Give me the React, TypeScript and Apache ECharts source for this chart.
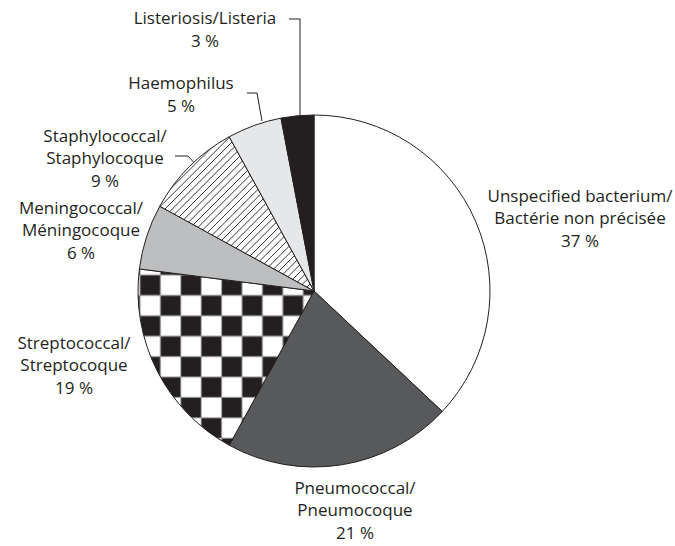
import React, { useEffect, useRef } from 'react';
import * as echarts from 'echarts';

const categories: string[] = [
  'Unspecified bacterium/\nBactérie non précisée',
  'Pneumococcal/\nPneumocoque',
  'Streptococcal/\nStreptocoque',
  'Meningococcal/\nMéningocoque',
  'Staphylococcal/\nStaphylocoque',
  'Haemophilus',
  'Listeriosis/Listeria',
];
const values: number[] = [37, 21, 19, 6, 9, 5, 3];

// label block layout: [centerX, topY, leader points | null]
const labelLayouts: [number, number, number[][] | null][] = [
  [580, 184, null],
  [355, 476, null],
  [74, 331, null],
  [81, 196, null],
  [105, 124, [[175, 156], [188, 156], [197, 166]]],
  [181, 71, [[247, 93], [257, 93], [262, 121]]],
  [205, 6, [[289, 19], [300, 19], [300, 116]]],
];

const CHECK_TILE = 40.8; // page px per 2 squares
const CHECK_PHASE_X = 140; // page x of a black square's left edge
const CHECK_PHASE_Y = 275; // page y of a black square's top edge

function makeChecker(): HTMLCanvasElement {
  const N = 82;
  const c = document.createElement('canvas');
  c.width = N;
  c.height = N;
  const ctx = c.getContext('2d')!;
  const sc = N / CHECK_TILE;
  const ox = ((CHECK_PHASE_X % CHECK_TILE) * sc) % N;
  const oy = ((CHECK_PHASE_Y % CHECK_TILE) * sc) % N;
  const sq = N / 2;
  ctx.fillStyle = '#ffffff';
  ctx.fillRect(0, 0, N, N);
  ctx.fillStyle = '#231f20';
  for (let i = -3; i <= 3; i++) {
    for (let j = -3; j <= 3; j++) {
      if ((((i + j) % 2) + 2) % 2 === 0) {
        ctx.fillRect(ox + i * sq, oy + j * sq, sq, sq);
      }
    }
  }
  ctx.fillStyle = '#9a9a9a';
  for (let i = -3; i <= 3; i++) {
    ctx.fillRect(ox + i * sq - 1, 0, 2, N);
    ctx.fillRect(0, oy + i * sq - 1, N, 2);
  }
  return c;
}

function makeHatch(): HTMLCanvasElement {
  const s = 22;
  const c = document.createElement('canvas');
  c.width = s;
  c.height = s;
  const ctx = c.getContext('2d')!;
  ctx.fillStyle = '#ffffff';
  ctx.fillRect(0, 0, s, s);
  ctx.strokeStyle = '#231f20';
  ctx.lineWidth = 0.9;
  for (let k = -1; k <= 7; k++) {
    const cc = (k * s) / 3;
    ctx.beginPath();
    ctx.moveTo(cc + 2, -2);
    ctx.lineTo(cc - s - 2, s + 2);
    ctx.stroke();
  }
  return c;
}

export default function App() {
  const ref = useRef<HTMLDivElement>(null);
  useEffect(() => {
    if (!ref.current) return;
    const chart = echarts.init(ref.current, null, { renderer: 'svg' });
    const checker = makeChecker();
    const hatch = makeHatch();
    const fills: any[] = [
      '#ffffff',
      '#58595b',
      { image: checker, repeat: 'repeat', imageWidth: CHECK_TILE, imageHeight: CHECK_TILE },
      '#bcbec0',
      { image: hatch, repeat: 'repeat', imageWidth: 22, imageHeight: 22 },
      '#e6e7e8',
      '#231f20',
    ];
    const data = categories.map((name, i) => ({
      name,
      value: values[i],
      itemStyle: { color: fills[i] },
      labelLine: { show: !!labelLayouts[i][2] },
    }));
    const txt = { fontFamily: 'Open Sans', fontSize: 17, fontWeight: 400, color: '#231f20' };
    chart.setOption({
      animation: false,
      backgroundColor: '#ffffff',
      series: [
        {
          type: 'pie',
          center: [314, 291],
          radius: 176,
          startAngle: 90,
          clockwise: true,
          avoidLabelOverlap: false,
          data,
          itemStyle: { borderColor: '#231f20', borderWidth: 1 },
          emphasis: { disabled: true },
          label: {
            show: true,
            position: 'outside',
            ...txt,
            formatter: (p: any) =>
              p.name
                .split('\n')
                .map((s: string) => '{n|' + s + '}')
                .join('\n') +
              '\n{p|' + p.value + ' %}',
            rich: {
              n: { ...txt, lineHeight: 22 },
              p: { ...txt, lineHeight: 25 },
            },
          },
          labelLine: { lineStyle: { color: '#231f20', width: 1 } },
          labelLayout: (params: any) => {
            const l = labelLayouts[params.dataIndex];
            const out: any = { x: l[0], y: l[1], align: 'center', verticalAlign: 'top' };
            if (l[2]) out.labelLinePoints = l[2];
            return out;
          },
        },
      ],
    });
    return () => chart.dispose();
  }, []);
  return (
    <div
      ref={ref}
      style={{ position: 'fixed', left: 0, top: 0, width: 675, height: 546 }}
    />
  );
}
